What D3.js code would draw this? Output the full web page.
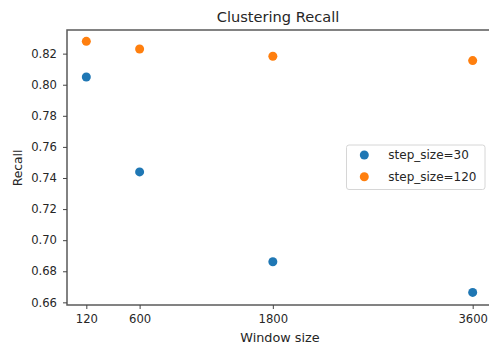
<!DOCTYPE html>
<html>
<head>
<meta charset="utf-8">
<script src="https://cdn.jsdelivr.net/npm/d3@7"></script>
<style>
  html, body { margin: 0; padding: 0; background: #fff; }
  svg { display: block; }
  text { font-family: "DejaVu Sans", sans-serif; fill: #262626; }
</style>
</head>
<body>
<svg id="chart" width="489" height="346"></svg>
<script>
// Window sizes (x) and recall per step size
const windowSizes = [120, 600, 1800, 3600];
const recallStep30 = [0.8050, 0.7439, 0.6861, 0.6664];
const recallStep120 = [0.8279, 0.8230, 0.8183, 0.8155];
const seriesNames = ["step_size=30", "step_size=120"];
const seriesColors = ["#1f77b4", "#ff7f0e"];
const xTicks = [120, 600, 1800, 3600];
const yTicks = [0.66, 0.68, 0.70, 0.72, 0.74, 0.76, 0.78, 0.80, 0.82];

const svg = d3.select("#chart");
const plot = { left: 67, top: 30, right: 492, bottom: 305 };

const x = d3.scaleLinear().domain([-54, 3774]).range([plot.left, plot.right]);
const y = d3.scaleLinear().domain([0.6583, 0.8352]).range([plot.bottom, plot.top]);

const series = [recallStep30, recallStep120].map((vals, i) => ({
  name: seriesNames[i],
  color: seriesColors[i],
  points: windowSizes.map((w, j) => ({ w, r: vals[j] }))
}));

// Frame
svg.append("rect")
  .attr("x", plot.left).attr("y", plot.top)
  .attr("width", plot.right - plot.left).attr("height", plot.bottom - plot.top)
  .attr("fill", "none").attr("stroke", "#5a5a5a").attr("stroke-width", 1.5);

// Axes
const xAxis = svg.append("g")
  .attr("transform", `translate(0,${plot.bottom})`)
  .call(d3.axisBottom(x).tickValues(xTicks).tickSize(4).tickPadding(6).tickFormat(d3.format("d")));
const yAxis = svg.append("g")
  .attr("transform", `translate(${plot.left},0)`)
  .call(d3.axisLeft(y).tickValues(yTicks).tickSize(4).tickPadding(6).tickFormat(d3.format(".2f")));

[xAxis, yAxis].forEach(g => {
  g.select(".domain").remove();
  g.selectAll(".tick line").attr("stroke", "#444").attr("stroke-width", 1);
  g.selectAll(".tick text").style("font-family", "DejaVu Sans, sans-serif")
    .style("font-size", "11.6px").attr("fill", "#262626");
});

// Points
series.forEach(s => {
  svg.append("g").selectAll("circle")
    .data(s.points).join("circle")
    .attr("cx", d => x(d.w)).attr("cy", d => y(d.r))
    .attr("r", 4.5).attr("fill", s.color);
});

// Title and axis labels
svg.append("text").attr("x", 278).attr("y", 21.7)
  .attr("text-anchor", "middle").style("font-size", "14.6px")
  .text("Clustering Recall");
svg.append("text").attr("x", 280).attr("y", 341.7)
  .attr("text-anchor", "middle").style("font-size", "12.8px")
  .text("Window size");
svg.append("text")
  .attr("transform", "translate(21.5,168) rotate(-90)")
  .attr("text-anchor", "middle").style("font-size", "12.3px")
  .text("Recall");

// Legend
const legend = svg.append("g");
legend.append("rect")
  .attr("x", 346.5).attr("y", 145).attr("width", 138.5).attr("height", 44.5)
  .attr("rx", 2.5).attr("fill", "#fff").attr("stroke", "#d6d6d6").attr("stroke-width", 1);
series.forEach((s, i) => {
  const cy = 155 + i * 21.7;
  legend.append("circle").attr("cx", 364.3).attr("cy", cy).attr("r", 4.5).attr("fill", s.color);
  legend.append("text").attr("x", 388.3).attr("y", cy + 4.3)
    .style("font-size", "12px").text(s.name);
});
</script>
</body>
</html>
